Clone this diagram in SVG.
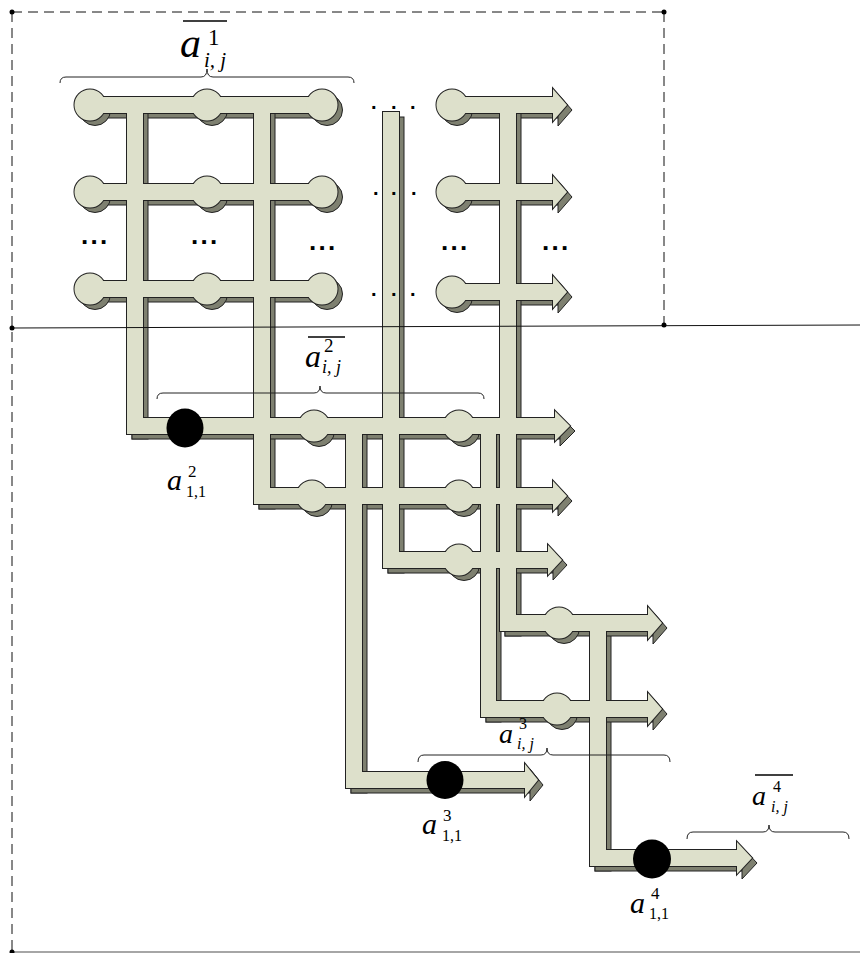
<svg xmlns="http://www.w3.org/2000/svg" xmlns:xlink="http://www.w3.org/1999/xlink" width="860" height="953" viewBox="0 0 860 953">
<style>
.sh{fill:#7e8070;stroke:#222;stroke-width:1}
.ol{fill:#dde0cb;stroke:#222;stroke-width:2}
.bd{fill:#dde0cb;stroke:none}
.frame{stroke:#111;stroke-width:1;fill:none}
.dash{stroke-dasharray:10 6}
.br{fill:none;stroke:#222;stroke-width:1}
.ball{fill:#000}
.lab{font-family:"Liberation Serif",serif;fill:#000}
.it{font-style:italic}
.dots{font-family:"Liberation Sans",sans-serif;font-weight:bold;fill:#000}
.pt{fill:#000}
</style>
<defs>
<g id="pipes">
  <!-- top grid rows -->
  <rect x="90" y="97" width="232" height="16"/>
  <rect x="90" y="184" width="232" height="16"/>
  <rect x="90" y="281" width="232" height="16"/>
  <circle cx="90" cy="105" r="15.5"/><circle cx="207" cy="105" r="15.5"/><circle cx="322" cy="105" r="15.5"/>
  <circle cx="90" cy="192" r="15.5"/><circle cx="207" cy="192" r="15.5"/><circle cx="322" cy="192" r="15.5"/>
  <circle cx="90" cy="289" r="15.5"/><circle cx="207" cy="289" r="15.5"/><circle cx="322" cy="289" r="15.5"/>
  <!-- right column arrows -->
  <rect x="452" y="97" width="101" height="16"/><polygon points="553,89 567,105 553,121"/><circle cx="452" cy="105" r="15.5"/>
  <rect x="452" y="184" width="101" height="16"/><polygon points="553,176 567,192 553,208"/><circle cx="452" cy="192" r="15.5"/>
  <rect x="452" y="284" width="101" height="16"/><polygon points="553,276 567,292 553,308"/><circle cx="452" cy="292" r="15.5"/>
  <!-- verticals from top -->
  <rect x="127" y="105" width="16" height="329"/>
  <rect x="254" y="105" width="16" height="399"/>
  <rect x="383" y="112" width="16" height="456"/>
  <rect x="500" y="105" width="16" height="526"/>
  <!-- middle rows -->
  <rect x="127" y="418" width="428" height="16"/><polygon points="555,411 570,426 555,441"/>
  <rect x="254" y="488" width="299" height="16"/><polygon points="553,481 567,496 553,511"/>
  <rect x="383" y="552" width="165" height="16"/><polygon points="548,545 562,560 548,575"/>
  <circle cx="314" cy="426" r="15.5"/><circle cx="459" cy="426" r="15.5"/>
  <circle cx="312" cy="496" r="15.5"/><circle cx="459" cy="496" r="15.5"/>
  <circle cx="459" cy="560" r="15.5"/>
  <!-- lower verticals -->
  <rect x="346" y="420" width="16" height="368"/>
  <rect x="481" y="420" width="15" height="297"/>
  <rect x="590" y="620" width="16" height="246"/>
  <!-- lower rows -->
  <rect x="500" y="615" width="148" height="16"/><polygon points="648,607 662,623 648,639"/><circle cx="559" cy="623" r="15.5"/>
  <rect x="481" y="701" width="167" height="16"/><polygon points="648,693 662,709 648,725"/><circle cx="557" cy="709" r="15.5"/>
  <rect x="346" y="772" width="179" height="16"/><polygon points="525,764 538,780 525,796"/>
  <rect x="590" y="850" width="147" height="16"/><polygon points="737,842 752,858 737,874"/>
</g>
</defs>
<rect width="860" height="953" fill="#fff"/>

<g id="connectors">
  <use href="#pipes" xlink:href="#pipes" class="sh" transform="translate(5,5)"/>
  <use href="#pipes" xlink:href="#pipes" class="ol"/>
  <use href="#pipes" xlink:href="#pipes" class="bd"/>
</g>

<g id="start-nodes">
  <ellipse class="ball" cx="185" cy="428" rx="18.5" ry="19.5"/>
  <ellipse class="ball" cx="445" cy="780" rx="18.5" ry="19"/>
  <ellipse class="ball" cx="652" cy="859" rx="19" ry="19.5"/>
</g>

<g id="frame">
  <line class="frame dash" x1="12" y1="12" x2="12" y2="952"/>
  <line class="frame dash" x1="12" y1="12" x2="664" y2="12"/>
  <line class="frame dash" x1="664" y1="12" x2="664" y2="325"/>
  <line class="frame" x1="12" y1="328" x2="860" y2="325"/>
  <line x1="12" y1="952" x2="860" y2="952" stroke="#888" stroke-width="1.5"/>
  <circle class="pt" cx="12" cy="12" r="2.5"/>
  <circle class="pt" cx="664" cy="12" r="2.5"/>
  <circle class="pt" cx="12" cy="328" r="2.5"/>
  <circle class="pt" cx="664" cy="325" r="2.5"/>
  <circle class="pt" cx="12" cy="952" r="2.5"/>
</g>

<g id="ellipses">
  <text class="dots" font-size="26" x="81 90.5 100" y="244">...</text>
  <text class="dots" font-size="26" x="191 200.5 210" y="244">...</text>
  <text class="dots" font-size="26" x="309 318.5 328" y="250">...</text>
  <text class="dots" font-size="26" x="441 450.5 460" y="250">...</text>
  <text class="dots" font-size="26" x="542 551.5 561" y="250">...</text>
  <text class="dots" font-size="20" x="371 391 410" y="109">...</text>
  <text class="dots" font-size="20" x="373 391 411" y="195">...</text>
  <text class="dots" font-size="20" x="371 391 410" y="296">...</text>
</g>

<g id="brackets">
  <path class="br" d="M60,83 Q60,77 66,77 L201,77 Q207,77 207,69 Q207,77 213,77 L348,77 Q354,77 354,83"/>
  <path class="br" d="M157,399 Q157,393 163,393 L314,393 Q320,393 320,386 Q320,393 326,393 L478,393 Q484,393 484,399"/>
  <path class="br" d="M418,762 Q418,755 424,755 L541,755 Q547,755 547,748 Q547,755 553,755 L664,755 Q670,755 670,762"/>
  <path class="br" d="M687,839 Q687,832 693,832 L763,832 Q769,832 769,825 Q769,832 775,832 L843,832 Q849,832 849,839"/>
</g>

<g id="label-a1">
  <line x1="183" y1="21" x2="227" y2="21" stroke="#000" stroke-width="1.5"/>
  <text class="lab it" x="180" y="57" font-size="42">a</text>
  <text class="lab" x="208" y="45" font-size="23">1</text>
  <text class="lab it" x="204" y="67" font-size="21">i, j</text>
</g>
<g id="label-a2">
  <line x1="308" y1="337" x2="345" y2="337" stroke="#000" stroke-width="1.3"/>
  <text class="lab it" x="305" y="367" font-size="32">a</text>
  <text class="lab" x="324" y="352" font-size="19">2</text>
  <text class="lab it" x="322" y="373" font-size="18">i, j</text>
</g>
<g id="label-a3">
  <text class="lab it" x="499" y="743" font-size="28">a</text>
  <text class="lab" x="519" y="729" font-size="16">3</text>
  <text class="lab it" x="517" y="749" font-size="16">i, j</text>
</g>
<g id="label-a4">
  <line x1="755" y1="775" x2="793" y2="775" stroke="#000" stroke-width="1.3"/>
  <text class="lab it" x="752" y="805" font-size="28">a</text>
  <text class="lab" x="773" y="792" font-size="16">4</text>
  <text class="lab it" x="771" y="812" font-size="16">i, j</text>
</g>
<g id="label-a2-11">
  <text class="lab it" x="167" y="490" font-size="30">a</text>
  <text class="lab" x="188" y="477" font-size="17">2</text>
  <text class="lab" x="186" y="497" font-size="16">1,1</text>
</g>
<g id="label-a3-11">
  <text class="lab it" x="422" y="834" font-size="30">a</text>
  <text class="lab" x="443" y="821" font-size="17">3</text>
  <text class="lab" x="442" y="841" font-size="16">1,1</text>
</g>
<g id="label-a4-11">
  <text class="lab it" x="630" y="913" font-size="30">a</text>
  <text class="lab" x="651" y="899" font-size="17">4</text>
  <text class="lab" x="649" y="919" font-size="16">1,1</text>
</g>
</svg>
